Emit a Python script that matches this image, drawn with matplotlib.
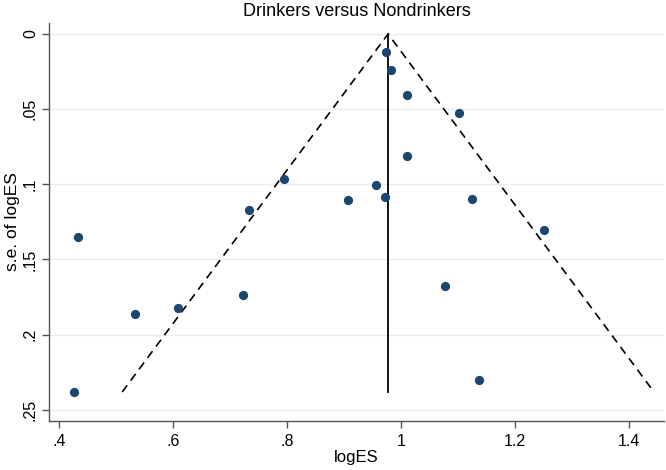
import numpy as np
import matplotlib.pyplot as plt

plt.rcParams['font.family'] = ['Liberation Sans', 'DejaVu Sans']

# study estimates
log_es = [0.974, 0.982, 1.011, 1.101, 1.011, 0.956, 0.971, 0.907, 1.125, 1.250,
          0.795, 0.732, 0.433, 0.722, 0.608, 0.533, 0.426, 1.077, 1.137]
se_log_es = [0.0122, 0.0242, 0.0406, 0.0526, 0.081, 0.1003, 0.1087, 0.1107, 0.110, 0.1304,
             0.0967, 0.1169, 0.1348, 0.1739, 0.1823, 0.1863, 0.2382, 0.1677, 0.2302]
pooled = 0.977
x_ticks = [0.4, 0.6, 0.8, 1.0, 1.2, 1.4]
x_tick_labels = ['.4', '.6', '.8', '1', '1.2', '1.4']
y_ticks = [0, 0.05, 0.1, 0.15, 0.2, 0.25]
y_tick_labels = ['0', '.05', '.1', '.15', '.2', '.25']

fig = plt.figure(figsize=(6.66, 4.70), dpi=100)
ax = fig.add_axes([49 / 666, 1 - 421 / 470, 615 / 666, 398 / 470])

se_max = max(se_log_es)
ax.plot([pooled - 1.96 * se_max, pooled, pooled + 1.96 * se_max], [se_max, 0, se_max],
        color='black', lw=1.2, ls=(0, (5, 3.5)))
ax.plot([pooled, pooled], [0, se_max], color='black', lw=1.3)
ax.scatter(log_es, se_log_es, s=44, color='#1a476f', zorder=3, linewidths=0)

ax.set_xlim(0.3816, 1.4615)
ax.set_ylim(0.2575, -0.0073)
ax.set_xticks(x_ticks)
ax.set_xticklabels(x_tick_labels)
ax.set_yticks(y_ticks)
ax.set_yticklabels(y_tick_labels, rotation=90, va='center')
ax.grid(axis='y', color='#e6eff3', lw=1.0)
ax.set_axisbelow(True)
for side in ['top', 'right']:
    ax.spines[side].set_visible(False)
for side in ['left', 'bottom']:
    ax.spines[side].set_color('#555555')
    ax.spines[side].set_linewidth(1.0)
ax.tick_params(colors='#555555', labelcolor='black', labelsize=11.5, length=5, width=1.0)
ax.tick_params(axis='x', pad=4)
ax.tick_params(axis='y', pad=3)

ax.set_xlabel('logES', fontsize=12, labelpad=1)
ax.set_ylabel('s.e. of logES', fontsize=12.5, labelpad=2)
ax.set_title('Drinkers versus Nondrinkers', fontsize=13, pad=5)

fig.savefig('out.png', dpi=100)
